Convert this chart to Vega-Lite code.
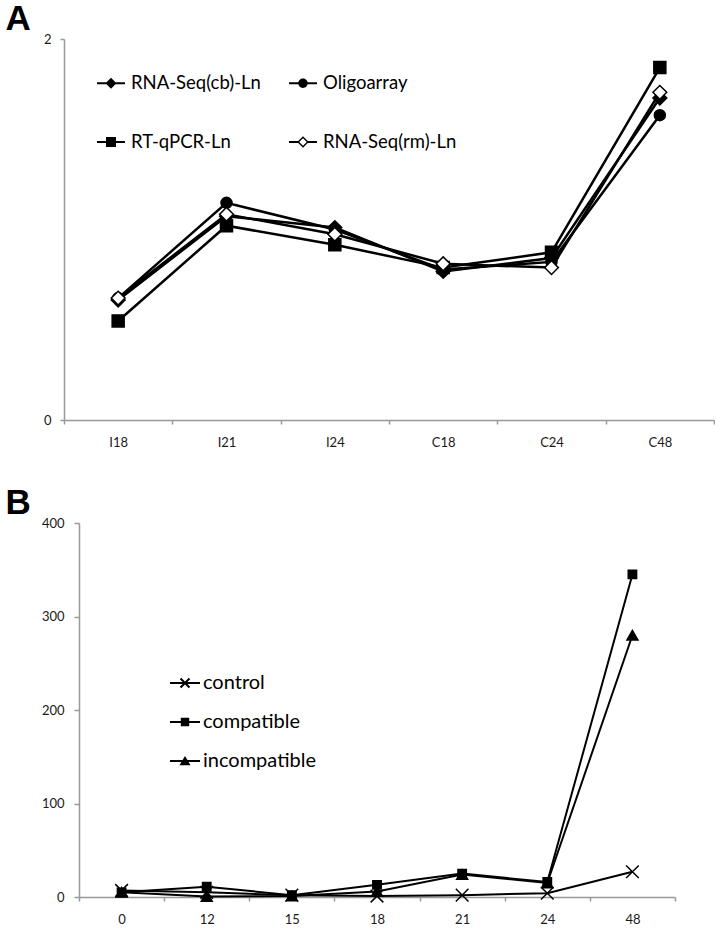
{
  "$schema": "https://vega.github.io/schema/vega-lite/v6.json",
  "padding": {"left": 5, "top": 2, "right": 0, "bottom": 0},
  "background": "white",
  "datasets": {
    "a": [
      {"series": "RNA-Seq(cb)-Ln", "cond": "I18", "v": 0.63},
      {"series": "RNA-Seq(cb)-Ln", "cond": "I21", "v": 1.07},
      {"series": "RNA-Seq(cb)-Ln", "cond": "I24", "v": 1.01},
      {"series": "RNA-Seq(cb)-Ln", "cond": "C18", "v": 0.78},
      {"series": "RNA-Seq(cb)-Ln", "cond": "C24", "v": 0.85},
      {"series": "RNA-Seq(cb)-Ln", "cond": "C48", "v": 1.69},
      {"series": "Oligoarray", "cond": "I18", "v": 0.64},
      {"series": "Oligoarray", "cond": "I21", "v": 1.14},
      {"series": "Oligoarray", "cond": "I24", "v": 1.0},
      {"series": "Oligoarray", "cond": "C18", "v": 0.79},
      {"series": "Oligoarray", "cond": "C24", "v": 0.83},
      {"series": "Oligoarray", "cond": "C48", "v": 1.6},
      {"series": "RT-qPCR-Ln", "cond": "I18", "v": 0.52},
      {"series": "RT-qPCR-Ln", "cond": "I21", "v": 1.02},
      {"series": "RT-qPCR-Ln", "cond": "I24", "v": 0.92},
      {"series": "RT-qPCR-Ln", "cond": "C18", "v": 0.8},
      {"series": "RT-qPCR-Ln", "cond": "C24", "v": 0.88},
      {"series": "RT-qPCR-Ln", "cond": "C48", "v": 1.85},
      {"series": "RNA-Seq(rm)-Ln", "cond": "I18", "v": 0.64},
      {"series": "RNA-Seq(rm)-Ln", "cond": "I21", "v": 1.08},
      {"series": "RNA-Seq(rm)-Ln", "cond": "I24", "v": 0.975},
      {"series": "RNA-Seq(rm)-Ln", "cond": "C18", "v": 0.82},
      {"series": "RNA-Seq(rm)-Ln", "cond": "C24", "v": 0.8},
      {"series": "RNA-Seq(rm)-Ln", "cond": "C48", "v": 1.72}
    ],
    "b": [
      {"series": "control", "t": "0", "v": 7},
      {"series": "control", "t": "12", "v": 5},
      {"series": "control", "t": "15", "v": 2},
      {"series": "control", "t": "18", "v": 1},
      {"series": "control", "t": "21", "v": 2},
      {"series": "control", "t": "24", "v": 4},
      {"series": "control", "t": "48", "v": 27},
      {"series": "compatible", "t": "0", "v": 5},
      {"series": "compatible", "t": "12", "v": 11},
      {"series": "compatible", "t": "15", "v": 2},
      {"series": "compatible", "t": "18", "v": 13},
      {"series": "compatible", "t": "21", "v": 25},
      {"series": "compatible", "t": "24", "v": 16},
      {"series": "compatible", "t": "48", "v": 345},
      {"series": "incompatible", "t": "0", "v": 5},
      {"series": "incompatible", "t": "12", "v": 0.5},
      {"series": "incompatible", "t": "15", "v": 1},
      {"series": "incompatible", "t": "18", "v": 6},
      {"series": "incompatible", "t": "21", "v": 24},
      {"series": "incompatible", "t": "24", "v": 15},
      {"series": "incompatible", "t": "48", "v": 280}
    ]
  },
  "columns": 1,
  "spacing": 37,
  "resolve": {
    "scale": {"shape": "independent", "x": "independent", "y": "independent"},
    "legend": {"shape": "independent"}
  },
  "concat": [
    {
      "width": 650,
      "height": 381,
      "title": {"text": "A", "anchor": "start", "dx": -38, "fontSize": 35, "font": "Liberation Sans", "fontWeight": "bold", "color": "black", "offset": -4},
      "data": {"name": "a"},
      "resolve": {"scale": {"shape": "independent"}, "legend": {"shape": "independent"}},
      "layer": [
        {
          "mark": {"type": "line", "color": "black", "strokeWidth": 2.5},
          "encoding": {
            "x": {"field": "cond", "type": "nominal", "sort": ["I18", "I21", "I24", "C18", "C24", "C48"], "bandPosition": 0.5,
              "scale": {"type": "band", "paddingInner": 0, "paddingOuter": 0},
              "axis": {"title": null, "tickBand": "extent", "labelAngle": 0, "tickSize": 4, "labelPadding": 12, "domainColor": "#999", "tickColor": "#999", "domainWidth": 1.5, "tickWidth": 1.5, "labelFont": "Lato", "labelFontSize": 13, "labelColor": "#1a1a1a"}},
            "y": {"field": "v", "type": "quantitative", "scale": {"domain": [0, 2]},
              "axis": {"title": null, "values": [0, 1, 2], "format": "d", "grid": false, "tickSize": 4, "labelPadding": 9, "domainColor": "#999", "tickColor": "#999", "domainWidth": 1.5, "tickWidth": 1.5, "labelFont": "Lato", "labelFontSize": 13, "labelColor": "#1a1a1a"}},
            "detail": {"field": "series"},
            "order": {"value": null}
          }
        },
        {
          "mark": {"type": "point", "filled": true, "stroke": "black", "strokeWidth": 1.5, "opacity": 1},
          "encoding": {
            "x": {"field": "cond", "type": "nominal", "sort": ["I18", "I21", "I24", "C18", "C24", "C48"], "bandPosition": 0.5},
            "y": {"field": "v", "type": "quantitative"},
            "shape": {"field": "series", "type": "nominal", "legend": null,
              "scale": {"domain": ["RNA-Seq(cb)-Ln", "Oligoarray", "RT-qPCR-Ln", "RNA-Seq(rm)-Ln"], "range": ["diamond", "circle", "square", "diamond"]}},
            "fill": {"condition": {"test": "datum.series === 'RNA-Seq(rm)-Ln'", "value": "white"}, "value": "black"},
            "size": {"condition": [{"test": "datum.series === 'Oligoarray'", "value": 121}, {"test": "datum.series === 'RT-qPCR-Ln'", "value": 144}], "value": 190}
          }
        },
        {
          "transform": [{"filter": "false"}],
          "mark": {"type": "point", "filled": false, "fill": "black", "stroke": "black", "strokeWidth": 2, "opacity": 1},
          "encoding": {
            "shape": {"field": "series", "type": "nominal",
              "scale": {"domain": ["RNA-Seq(cb)-Ln", "RT-qPCR-Ln", "Oligoarray", "RNA-Seq(rm)-Ln"],
                "range": [
                  "M-1.4,-0.1H1.4V0.1H-1.4ZM0,-0.55L0.55,0L0,0.55L-0.55,0Z",
                  "M-1.4,-0.1H1.4V0.1H-1.4ZM-0.5,-0.5H0.5V0.5H-0.5Z",
                  "M-1.4,-0.1H-0.4V0.1H-1.4ZM0.4,-0.1H1.4V0.1H0.4ZM-0.47,0A0.47,0.47 0 1,1 0.47,0A0.47,0.47 0 1,1 -0.47,0Z",
                  "M-1.4,-0.1H-0.5V0.1H-1.4ZM0.5,-0.1H1.4V0.1H0.5ZM0,-0.58L0.58,0L0,0.58L-0.58,0ZM0,-0.38L-0.38,0L0,0.38L0.38,0Z"
                ]},
              "legend": {
                "title": null, "orient": "none", "legendX": 36, "legendY": 33, "columns": 2, "columnPadding": 24, "rowPadding": 38,
                "padding": 0, "symbolSize": 400, "labelOffset": 9, "labelFont": "Lato", "labelFontSize": 18.5, "labelColor": "black", "labelLimit": 300,
                "symbolFillColor": "black", "symbolStrokeColor": "black", "symbolStrokeWidth": 2, "symbolOpacity": 1
              }}
          }
        }
      ]
    },
    {
      "width": 611,
      "height": 374,
      "title": {"text": "B", "anchor": "start", "dx": -36, "fontSize": 35, "font": "Liberation Sans", "fontWeight": "bold", "color": "black", "offset": -4},
      "data": {"name": "b"},
      "resolve": {"scale": {"shape": "independent"}, "legend": {"shape": "independent"}},
      "layer": [
        {
          "mark": {"type": "line", "color": "black", "strokeWidth": 2},
          "encoding": {
            "x": {"field": "t", "type": "nominal", "sort": ["0", "12", "15", "18", "21", "24", "48"], "bandPosition": 0.5,
              "scale": {"type": "band", "paddingInner": 0, "paddingOuter": 0, "range": [15, 611]},
              "axis": {"title": null, "tickBand": "extent", "labelAngle": 0, "tickSize": 4, "labelPadding": 12, "domainColor": "#999", "tickColor": "#999", "domainWidth": 1.5, "tickWidth": 1.5, "labelFont": "Lato", "labelFontSize": 13, "labelColor": "#1a1a1a"}},
            "y": {"field": "v", "type": "quantitative", "scale": {"domain": [0, 400]},
              "axis": {"title": null, "offset": -15, "values": [0, 100, 200, 300, 400], "grid": false, "tickSize": 5, "labelPadding": 10, "domainColor": "#999", "tickColor": "#999", "domainWidth": 1.5, "tickWidth": 1.5, "labelFont": "Lato", "labelFontSize": 13, "labelColor": "#1a1a1a"}},
            "detail": {"field": "series"},
            "order": {"value": null}
          }
        },
        {
          "mark": {"type": "point", "filled": true, "stroke": "black", "strokeWidth": 1.5, "opacity": 1},
          "encoding": {
            "x": {"field": "t", "type": "nominal", "sort": ["0", "12", "15", "18", "21", "24", "48"], "bandPosition": 0.5},
            "y": {"field": "v", "type": "quantitative"},
            "shape": {"field": "series", "type": "nominal", "legend": null,
              "scale": {"domain": ["control", "compatible", "incompatible"], "range": ["M-1,-1L1,1M-1,1L1,-1", "square", "triangle-up"]}},
            "fill": {"condition": {"test": "datum.series === 'control'", "value": "transparent"}, "value": "black"},
            "size": {"condition": [{"test": "datum.series === 'control'", "value": 160}, {"test": "datum.series === 'compatible'", "value": 70}], "value": 120}
          }
        },
        {
          "transform": [{"filter": "false"}],
          "mark": {"type": "point", "filled": false, "fill": "black", "stroke": "black", "strokeWidth": 2, "opacity": 1},
          "encoding": {
            "shape": {"field": "series", "type": "nominal",
              "scale": {"domain": ["control", "compatible", "incompatible"],
                "range": [
                  "M-1.5,-0.1H1.5V0.1H-1.5ZM-0.38,-0.52L0.52,0.38L0.38,0.52L-0.52,-0.38ZM-0.38,0.52L-0.52,0.38L0.38,-0.52L0.52,-0.38Z",
                  "M-1.5,-0.1H1.5V0.1H-1.5ZM-0.42,-0.42H0.42V0.42H-0.42Z",
                  "M-1.5,-0.1H1.5V0.1H-1.5ZM0,-0.5L0.55,0.42H-0.55Z"
                ]},
              "legend": {
                "title": null, "orient": "none", "legendX": 110, "legendY": 149, "columns": 1, "rowPadding": 18,
                "padding": 0, "symbolSize": 400, "labelOffset": 7, "labelFont": "Lato", "labelFontSize": 20, "labelColor": "black", "labelLimit": 300,
                "symbolFillColor": "black", "symbolStrokeColor": "black", "symbolStrokeWidth": 2, "symbolOpacity": 1
              }}
          }
        }
      ]
    }
  ],
  "config": {"view": {"stroke": null}, "font": "Lato"}
}
